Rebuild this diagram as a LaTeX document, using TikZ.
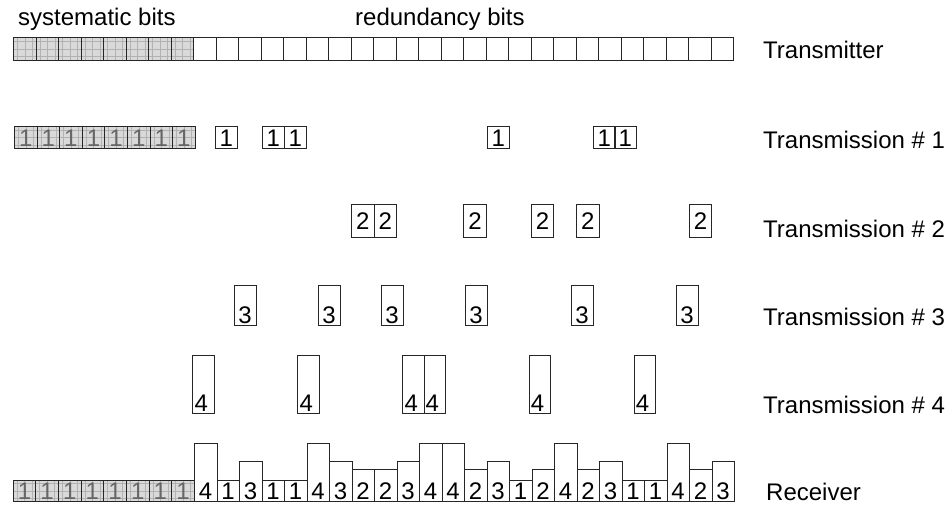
\documentclass[tikz,border=0pt]{standalone}
\usepackage{fontspec}
\setmainfont{Liberation Sans}
\usetikzlibrary{positioning}
\newcommand{\capfont}{\fontsize{24}{28}\selectfont}
\newcommand{\digfont}{\fontsize{24}{28}\selectfont}

\begin{document}
\begin{tikzpicture}[x=1pt,y=-1pt,
  cell/.style={draw=black!85,line width=0.8pt,inner sep=0pt,anchor=south west,
    minimum width=22.5pt,minimum height=#1},
  cell/.default=23pt,
  sys/.style={fill=gray!30,path picture={\draw[gray!60,line width=0.3pt,step=7.5pt]
      (path picture bounding box.south west) grid (path picture bounding box.north east);}},
  digit/.style={font=\digfont,inner sep=2pt,text=black},
  num/.style={label={[digit,anchor=south]south:#1}},
  numc/.style={label={[digit,anchor=center]center:#1}},
  numl/.style={label={[digit,anchor=south west]south west:#1}},
  sysnum/.style={label={[digit,text=black!60,anchor=south]south:1}},
  caption/.style={font=\capfont,anchor=base west,inner sep=0pt}]
\useasboundingbox (0,0) rectangle (952,506);
% headings
\node[caption] (sb) at (18,25) {systematic bits};
\node[caption] (rb) at (355,25) {redundancy bits};
% transmitter
\foreach \i in {0,...,7}
  \node[cell,sys] (tx\i) at ({13+22.5*\i},61) {};
\foreach \i in {8,...,31}
  \node[cell] (tx\i) at ({13+22.5*\i},61) {};
\node[caption] (ltx) at (763,58) {Transmitter};
% transmission 1
\foreach \i in {0,...,7}
  \node[cell=22,minimum width=22.6,sys,sysnum] (tas\i) at ({14+22.6*\i},149) {};
\foreach \x [count=\k] in {215,262,284,487,593,614}
  \node[cell=22,minimum width=22,num=1] (ta\k) at (\x,149) {};
\node[caption] (lta) at (763,148) {Transmission \# 1};
% transmission 2
\foreach \x [count=\k] in {351,373.6,463.4,530.8,576,688.8}
  \node[cell=33,minimum width=22.6,numc=2] (tb\k) at (\x,237.7) {};
\node[caption] (ltb) at (763,237) {Transmission \# 2};
% transmission 3
\foreach \x [count=\k] in {234,318,381,465,571,676}
  \node[cell=40,minimum width=21.5,num=3] (tc\k) at (\x,326) {};
\node[caption] (ltc) at (763,325) {Transmission \# 3};
% transmission 4
\foreach \x [count=\k] in {192.3,297.3,402.3,423.5,528.7,633.7}
  \node[cell=58,minimum width=21.3,numl=4] (td\k) at (\x,414) {};
\node[caption] (ltd) at (763,413) {Transmission \# 4};
% receiver
\foreach \i in {0,...,7}
  \node[cell=21.6,minimum width=22.66,sys,sysnum] (rxs\i) at ({12.7+22.66*\i},502) {};
\foreach \d [count=\k from 0] in {4,1,3,1,1,4,3,2,2,3,4,4,2,3,1,2,4,2,3,1,1,4,2,3}{
  \pgfmathsetmacro\h{{0,21.6,32,40,58}[\d]}
  \node[cell=\h,num=\d] (rx\k) at ({194+22.5*\k},502) {};
}
\node[caption] (lrx) at (766,500) {Receiver};
\end{tikzpicture}
\end{document}
